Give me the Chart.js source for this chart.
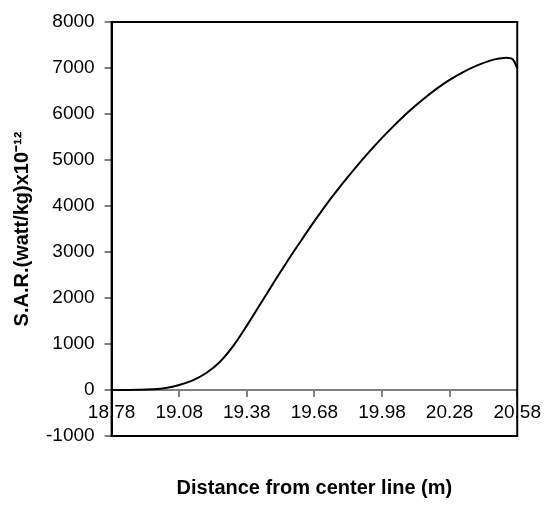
<!DOCTYPE html>
<html lang="en">
<head>
    <meta charset="UTF-8">
    <title>S.A.R. vs distance</title>
    <script src="https://cdn.jsdelivr.net/npm/chart.js@4.4.0/dist/chart.umd.min.js"></script>
    <style>
        body {
            margin: 0;
            background: white;
        }

        .box {
            width: 546px;
            height: 508px;
        }
    </style>
</head>
<body>
<div class="box">
    <canvas id="grafico" width="546" height="508"></canvas>
</div>

<script>
    // distance from center line (m)
    const distancia = [18.78, 18.84, 18.90, 18.96, 19.02, 19.08, 19.14, 19.20, 19.26, 19.32, 19.38, 19.44,
        19.50, 19.56, 19.62, 19.68, 19.74, 19.80, 19.86, 19.92, 19.98, 20.04, 20.10, 20.16, 20.22,
        20.28, 20.34, 20.40, 20.46, 20.50, 20.54, 20.56, 20.58];
    // S.A.R. (watt/kg) x 10^-12
    const sar = [0, 0, 3, 15, 45, 110, 210, 370, 610, 960, 1400, 1870,
        2340, 2800, 3240, 3670, 4080, 4460, 4820, 5160, 5480, 5780, 6060, 6310, 6540,
        6740, 6910, 7050, 7160, 7205, 7220, 7190, 7000];
    const xTicks = [18.78, 19.08, 19.38, 19.68, 19.98, 20.28, 20.58];

    const pontos = distancia.map((d, i) => ({x: d, y: sar[i]}));

    // moldura em volta da area do grafico
    const moldura = {
        id: 'moldura',
        afterDraw(chart) {
            const a = chart.chartArea;
            const c = chart.ctx;
            c.save();
            c.strokeStyle = '#000';
            c.lineWidth = 2;
            c.strokeRect(a.left, a.top, a.right - a.left, a.bottom - a.top);
            c.restore();
        }
    };

    Chart.defaults.font.family = '"Liberation Sans", Arial, sans-serif';
    Chart.defaults.color = '#000';

    new Chart(document.getElementById('grafico'), {
        type: 'line',
        data: {
            datasets: [{
                data: pontos,
                borderColor: '#000',
                borderWidth: 2,
                pointRadius: 0,
                tension: 0.4,
                fill: false
            }]
        },
        options: {
            responsive: false,
            animation: false,
            layout: {padding: {top: 22, right: 28, left: 0, bottom: 0}},
            plugins: {
                legend: {display: false},
                tooltip: {enabled: false},
                title: {
                    display: true,
                    position: 'bottom',
                    fullSize: false,
                    text: 'Distance from center line (m)',
                    font: {size: 20, weight: 'bold'},
                    padding: {top: 40, bottom: 8}
                }
            },
            scales: {
                x: {
                    type: 'linear',
                    position: {y: 0},
                    min: 18.78,
                    max: 20.58,
                    afterBuildTicks: s => { s.ticks = xTicks.map(v => ({value: v})); },
                    ticks: {
                        font: {size: 19},
                        padding: 5,
                        maxRotation: 0,
                        callback: v => v.toFixed(2)
                    },
                    grid: {drawOnChartArea: false, drawTicks: true, tickLength: 6, color: '#808080', lineWidth: 2},
                    border: {display: true, color: '#808080', width: 2}
                },
                y: {
                    min: -1000,
                    max: 8000,
                    ticks: {stepSize: 1000, font: {size: 19}, padding: 10, callback: v => String(v)},
                    grid: {drawOnChartArea: false, drawTicks: true, tickLength: 7, color: '#808080', lineWidth: 2},
                    border: {display: true, color: '#000', width: 2},
                    title: {
                        display: true,
                        text: 'S.A.R.(watt/kg)x10\u207B\u00B9\u00B2',
                        font: {size: 20, weight: 'bold'},
                        padding: {top: 10, bottom: 2}
                    }
                }
            }
        },
        plugins: [moldura]
    });
</script>
</body>
</html>
